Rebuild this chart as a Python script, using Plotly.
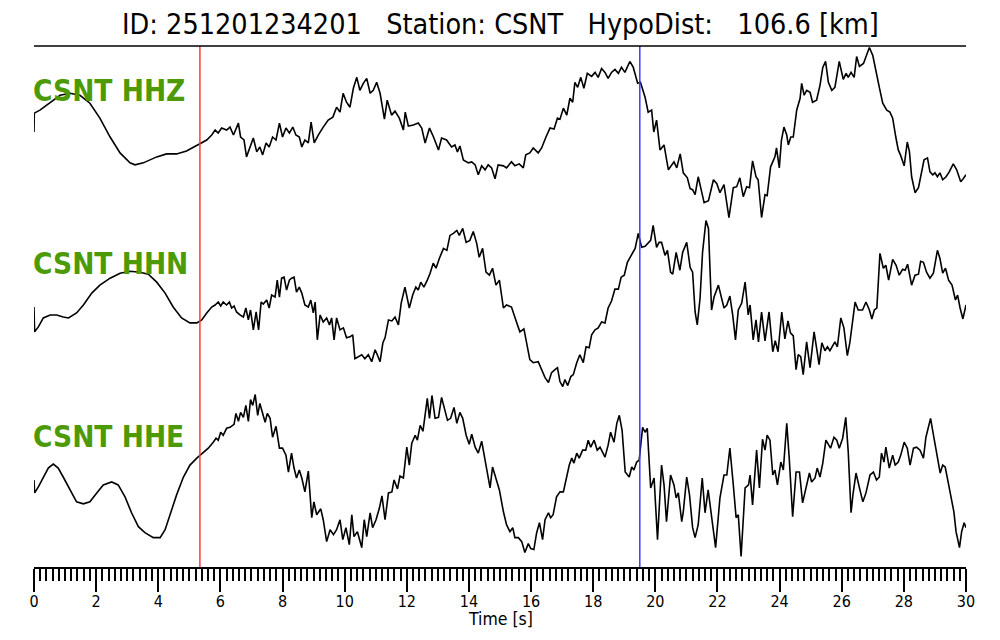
import plotly.graph_objects as go

TITLE = "ID: 251201234201\u00a0\u00a0\u00a0Station: CSNT\u00a0\u00a0\u00a0HypoDist:\u00a0\u00a0\u00a0106.6 [km]"
channels = ["CSNT HHZ", "CSNT HHN", "CSNT HHE"]
p_pick = 5.34   # s
s_pick = 19.50  # s

# ---- HHZ (relative amplitude) ----
hhz_t = [0.00, 0.01, 0.19, 0.51, 0.84, 1.16, 1.48, 1.80, 2.12, 2.45,
         2.77, 3.09, 3.25, 3.52, 3.95, 4.27, 4.59, 4.91, 5.24, 5.34,
         5.56, 5.72, 5.83, 5.93, 6.04, 6.20, 6.31, 6.42, 6.52, 6.58,
         6.65, 6.76, 6.84, 6.95, 7.06, 7.17, 7.27, 7.36, 7.47, 7.57,
         7.68, 7.79, 7.90, 8.00, 8.11, 8.22, 8.33, 8.43, 8.54, 8.62,
         8.72, 8.83, 8.92, 9.02, 9.15, 9.31, 9.47, 9.62, 9.74, 9.85,
         9.95, 10.06,
         10.17, 10.28, 10.39, 10.49, 10.60, 10.71, 10.82, 10.92, 11.03, 11.14,
         11.28, 11.37, 11.51, 11.62, 11.76, 11.89, 11.95, 12.05, 12.21, 12.37,
         12.48, 12.59, 12.73, 12.86, 13.02, 13.12, 13.28, 13.44, 13.55, 13.63,
         13.71, 13.82, 13.98, 14.09, 14.20, 14.30, 14.41, 14.52, 14.62, 14.73,
         14.84, 14.94, 15.11, 15.21, 15.37, 15.48, 15.62, 15.75, 15.83, 15.96,
         16.07, 16.23, 16.34, 16.48, 16.61, 16.74, 16.85, 16.93, 17.04, 17.15,
         17.25, 17.34, 17.41, 17.50, 17.60, 17.70, 17.81, 17.95, 18.06, 18.16,
         18.27, 18.38, 18.48, 18.59, 18.70, 18.81, 18.91, 19.02, 19.18, 19.29,
         19.43, 19.52, 19.67, 19.77, 19.88, 19.95, 20.04, 20.15,
         20.28, 20.42, 20.53, 20.60, 20.69, 20.80, 20.90, 21.03, 21.12, 21.20,
         21.28, 21.38, 21.49, 21.57, 21.71, 21.87, 21.98, 22.08, 22.21, 22.37,
         22.51, 22.62, 22.72, 22.83, 22.94, 23.03, 23.13, 23.24, 23.31, 23.42,
         23.53, 23.60, 23.71, 23.85, 23.90, 23.99, 24.06, 24.14, 24.23, 24.28,
         24.36, 24.44, 24.55, 24.66, 24.71, 24.79, 24.87, 24.98, 25.06, 25.19,
         25.30, 25.39, 25.48, 25.57, 25.68, 25.78, 25.92, 26.05, 26.14, 26.21,
         26.30, 26.40, 26.48, 26.57, 26.70, 26.80, 26.89, 27.00, 27.13, 27.21,
         27.32, 27.45, 27.55, 27.64, 27.74, 27.82, 27.89, 28.01, 28.11, 28.18,
         28.25, 28.36, 28.47, 28.58, 28.65, 28.76, 28.84, 28.93, 29.00, 29.08,
         29.16, 29.25, 29.36, 29.46, 29.59, 29.70, 29.83, 29.91, 30.00]
hhz_a = [1, 20, 23, 30, 38, 40, 38, 30, 15, -4,
         -20, -30, -32, -30, -24, -21, -21, -18, -12, -11,
         -7, -2, 3, 0, 5, 3, 6, -2, 5, 10,
         -4, -7, -24, -14, -5, -19, -14, -22, -10, -14,
         -4, -7, 10, -4, 5, 0, 6, -2, -4, -14,
         -7, -10, 11, -10, -2, 6, 13, 16, 26, 21,
         40, 31,
         26, 45, 56, 43, 50, 55, 40, 43, 51, 40,
         14, 33, 18, 22, 15, 3, 21, 7, 8, 10,
         5, -10, 5, -4, -17, -5, -7, -14, -12, -19,
         -13, -27, -30, -29, -32, -42, -33, -37, -32, -35,
         -46, -32, -33, -35, -29, -33, -31, -35, -22, -20,
         -15, -20, -15, -4, 5, 4, 15, 14, 25, 18,
         35, 31, 51, 46, 56, 45, 60, 57, 61, 56,
         65, 61, 55, 61, 64, 60, 66, 61, 72, 66,
         50, 51, 36, 21, 23, 1, 13, -17,
         -12, -37, -32, -29, -35, -21, -40, -45, -56, -57,
         -62, -44, -59, -70, -68, -47, -51, -60, -52, -85,
         -55, -54, -45, -64, -54, -55, -28, -44, -47, -85,
         -62, -63, -34, -24, -15, -35, -7, 6, -2, -12,
         -4, -4, 23, 35, 50, 38, 43, 41, 31, 33,
         48, 66, 72, 51, 43, 46, 72, 54, 60, 56,
         61, 56, 77, 67, 70, 78, 86, 78, 60, 46,
         30, 23, 21, 15, -4, -17, -22, -33, -9, -19,
         -44, -60, -55, -37, -27, -25, -39, -42, -40, -44,
         -40, -47, -44, -39, -31, -37, -49, -46, -42]

# ---- HHN (relative amplitude) ----
hhn_t = [0.00, 0.02, 0.14, 0.30, 0.52, 0.73, 0.94, 1.11, 1.37, 1.59,
         1.86, 2.12, 2.45, 2.77, 3.09, 3.41, 3.68, 3.95, 4.22, 4.48,
         4.75, 5.02, 5.24, 5.40, 5.56, 5.72, 5.83, 5.93, 6.01, 6.09,
         6.20, 6.29, 6.36, 6.44, 6.52, 6.63, 6.74, 6.82, 6.90, 6.97,
         7.06, 7.15, 7.23, 7.31, 7.38, 7.49, 7.57, 7.65, 7.76, 7.83,
         7.90, 7.97, 8.05, 8.13, 8.22, 8.29, 8.37, 8.45, 8.54, 8.62,
         8.72, 8.83, 8.91, 8.99, 9.05, 9.12, 9.21, 9.31, 9.42, 9.51,
         9.58, 9.66, 9.74, 9.85, 9.96, 10.06,
         10.17, 10.26, 10.33, 10.44, 10.55, 10.65, 10.76, 10.87, 10.98, 11.05,
         11.14, 11.23, 11.30, 11.41, 11.52, 11.62, 11.73, 11.82, 11.94, 12.08,
         12.19, 12.29, 12.37, 12.45, 12.55, 12.66, 12.75, 12.85, 12.94, 13.05,
         13.18, 13.29, 13.39, 13.50, 13.61, 13.69, 13.80, 13.91, 14.03, 14.14,
         14.25, 14.33, 14.44, 14.55, 14.66, 14.76, 14.87, 14.98, 15.11, 15.21,
         15.37, 15.53, 15.64, 15.77, 15.86, 15.96, 16.07, 16.23, 16.34, 16.45,
         16.56, 16.66, 16.77, 16.85, 16.93, 17.02, 17.09, 17.18, 17.28, 17.36,
         17.47, 17.57, 17.68, 17.77, 17.87, 17.95, 18.06, 18.16, 18.27, 18.38,
         18.48, 18.59, 18.70, 18.81, 18.90, 19.00, 19.10, 19.19, 19.30, 19.35,
         19.45, 19.56, 19.67, 19.77, 19.85, 19.93, 20.04, 20.12,
         20.20, 20.31, 20.39, 20.49, 20.56, 20.67, 20.79, 20.88, 21.01, 21.12,
         21.20, 21.28, 21.35, 21.44, 21.52, 21.63, 21.71, 21.81, 21.89, 22.03,
         22.13, 22.21, 22.30, 22.40, 22.49, 22.58, 22.67, 22.78, 22.89, 22.99,
         23.05, 23.15, 23.24, 23.32, 23.42, 23.53, 23.66, 23.78, 23.86, 23.95,
         24.07, 24.17, 24.27, 24.35, 24.44, 24.53, 24.60, 24.68, 24.76, 24.87,
         24.98, 25.11, 25.19, 25.27, 25.36, 25.46, 25.54, 25.62, 25.78, 25.86,
         25.97, 26.07, 26.18, 26.26, 26.43, 26.53, 26.67, 26.78, 26.89, 26.97,
         27.05, 27.13, 27.23, 27.34, 27.42, 27.51, 27.64, 27.75, 27.85, 27.96,
         28.04, 28.12, 28.25, 28.36, 28.47, 28.54, 28.63, 28.73, 28.84, 28.95,
         29.08, 29.16, 29.25, 29.34, 29.44, 29.55, 29.66, 29.73, 29.81, 29.90,
         30.00]
hhn_a = [-3, -28, -23, -14, -11, -11, -13, -14, -9, -1,
         11, 19, 26, 31, 33, 32, 30, 22, 11, -3,
         -14, -19, -19, -16, -9, -3, -1, 2, -2, 2,
         -1, 2, -4, -2, -8, -11, -13, -4, -16, -6,
         -26, -8, -26, 2, 0, 4, -4, 9, 7, 24,
         7, 26, 27, 14, 24, 26, 27, 12, 17, 11,
         -1, -3, 4, -9, 2, -36, -11, -18, -14, -21,
         -14, -36, -14, -26, -24, -34,
         -33, -31, -55, -53, -51, -55, -51, -58, -46, -51,
         -58, -39, -34, -16, -17, -13, -21, 1, 17, -4,
         9, 17, 14, 22, 17, 24, 31, 41, 36, 46,
         56, 54, 69, 71, 74, 69, 76, 62, 64, 73,
         61, 47, 56, 32, 29, 36, 19, 24, -4, -1,
         -3, -18, -28, -25, -41, -56, -59, -58, -66, -74,
         -79, -69, -66, -64, -78, -83, -76, -82, -73, -71,
         -59, -51, -59, -43, -44, -31, -26, -24, -18, -19,
         -4, 3, 15, 15, 27, 29, 42, 47, 54, 56,
         71, 57, 58, 62, 64, 79, 57, 62,
         62, 49, 54, 32, 30, 52, 34, 52, 62, 37,
         32, -8, -21, 6, 52, 84, 76, -6, 7, 19,
         7, -4, -1, 8, -11, -36, -6, 1, 22, -11,
         -1, -36, -16, -38, -8, -37, -8, -48, -37, -48,
         -8, -35, -17, -29, -32, -66, -51, -53, -71, -38,
         -64, -28, -44, -61, -39, -47, -43, -47, -38, -43,
         -14, -24, -52, -39, 2, -6, -6, 2, -6, -15,
         -6, -4, 51, 36, 39, 24, 45, 39, 29, 35,
         34, 40, 19, 29, 30, 43, 42, 32, 26, 31,
         54, 46, 31, 36, 24, 19, 4, 9, -4, -15,
         -1]

# ---- HHE (relative amplitude) ----
hhe_t = [0.00, 0.02, 0.14, 0.30, 0.46, 0.62, 0.78, 0.94, 1.16, 1.37,
         1.59, 1.80, 2.02, 2.23, 2.50, 2.71, 2.93, 3.14, 3.36, 3.57,
         3.84, 4.06, 4.22, 4.38, 4.59, 4.81, 5.02, 5.24, 5.40, 5.61,
         5.77, 5.86, 5.93, 6.01, 6.09, 6.20, 6.31, 6.44, 6.50, 6.58,
         6.65, 6.74, 6.82, 6.90, 6.97, 7.04, 7.12, 7.20, 7.27, 7.36,
         7.44, 7.51, 7.60, 7.68, 7.79, 7.90, 8.00, 8.11, 8.19, 8.29,
         8.37, 8.45, 8.54, 8.62, 8.72, 8.83, 8.94, 9.01, 9.10, 9.23,
         9.31, 9.42, 9.53, 9.64, 9.74, 9.85, 9.94, 10.04,
         10.15, 10.23, 10.30, 10.41, 10.47, 10.55, 10.63, 10.71, 10.82, 10.90,
         11.01, 11.12, 11.20, 11.30, 11.41, 11.52, 11.59, 11.70, 11.78, 11.89,
         12.00, 12.08, 12.16, 12.27, 12.34, 12.43, 12.52, 12.59, 12.66, 12.73,
         12.81, 12.91, 13.02, 13.12, 13.23, 13.31, 13.41, 13.52, 13.61, 13.71,
         13.80, 13.91, 14.01, 14.09, 14.20, 14.30, 14.41, 14.55, 14.68, 14.76,
         14.87, 14.98, 15.11, 15.21, 15.32, 15.41, 15.48, 15.59, 15.70, 15.80,
         15.91, 15.99, 16.09, 16.18, 16.27, 16.37, 16.45, 16.56, 16.63, 16.71,
         16.82, 16.93, 17.04, 17.15, 17.23, 17.31, 17.38, 17.47, 17.55, 17.66,
         17.76, 17.84, 17.92, 18.03, 18.13, 18.22, 18.38, 18.48, 18.56, 18.67,
         18.76, 18.84, 18.93, 19.03, 19.16, 19.24, 19.31, 19.40, 19.48, 19.59,
         19.67, 19.74, 19.85, 19.96, 20.07,
         20.20, 20.28, 20.36, 20.45, 20.49, 20.60, 20.67, 20.74, 20.85, 20.90,
         21.01, 21.10, 21.20, 21.28, 21.38, 21.51, 21.60, 21.70, 21.81, 21.94,
         22.08, 22.21, 22.30, 22.40, 22.51, 22.60, 22.67, 22.76, 22.89, 23.00,
         23.05, 23.13, 23.26, 23.35, 23.45, 23.53, 23.60, 23.69, 23.78, 23.85,
         23.93, 24.04, 24.12, 24.23, 24.31, 24.42, 24.53, 24.64, 24.74, 24.85,
         24.96, 25.03, 25.14, 25.21, 25.30, 25.39, 25.49, 25.64, 25.75, 25.84,
         25.92, 26.03, 26.13, 26.21, 26.30, 26.36, 26.46, 26.57, 26.68, 26.78,
         26.91, 27.02, 27.12, 27.21, 27.28, 27.36, 27.42, 27.53, 27.64, 27.72,
         27.82, 27.90, 28.01, 28.11, 28.20, 28.31, 28.41, 28.52, 28.63, 28.71,
         28.79, 28.86, 28.97, 29.06, 29.17, 29.25, 29.33, 29.43, 29.54, 29.61,
         29.68, 29.79, 29.86, 29.94, 30.00]
hhe_a = [-5, -18, -12, -2, 7, 11, 7, -2, -15, -27,
         -29, -27, -18, -10, -7, -10, -22, -38, -52, -58,
         -63, -63, -55, -40, -20, -2, 10, 17, 21, 27,
         33, 37, 35, 43, 40, 47, 48, 51, 62, 54,
         63, 58, 70, 54, 76, 70, 81, 60, 72, 63,
         53, 62, 57, 38, 49, 27, 27, 20, 3, 22,
         7, -3, 5, -3, -17, 4, -43, -27, -40, -34,
         -45, -67, -55, -60, -55, -45, -65, -53,
         -70, -40, -62, -57, -65, -73, -45, -62, -38, -53,
         -45, -33, -21, -45, -18, -17, -5, -14, -1, -3,
         28, 10, 32, 40, 35, 50, 44, 60, 77, 57,
         80, 57, 58, 78, 65, 55, 57, 68, 52, 63,
         57, 40, 31, 41, 28, 22, 34, 10, -13, 8,
         -3, -15, -37, -50, -57, -53, -63, -63, -67, -78,
         -69, -74, -75, -58, -48, -65, -45, -38, -43, -40,
         -22, -17, -17, -3, 10, 17, 12, 22, 17, 25,
         25, 35, 28, 35, 25, 28, 18, 30, 43, 33,
         52, 60, 45, 3, -2, 8, 5, 13, 15, 48,
         43, 47, -13, -3, -65,
         10, -10, -47, -17, 0, -10, -23, -18, -47, -37,
         -2, -20, -53, -63, -50, -3, -38, -15, -43, -73,
         -23, 0, 0, 27, -10, -43, -40, -82, -13, -10,
         0, -30, 25, -13, 36, 25, 40, 35, 0, 5,
         -10, 13, 5, 52, 17, -42, 3, 3, -28, -13,
         2, -7, -3, 7, -2, 12, 35, 27, 38, 35,
         27, 37, 58, 23, -38, -20, 2, -13, -27, -18,
         0, 3, -5, -2, 22, 13, 28, 7, 20, 10,
         13, 20, 33, 27, 10, 27, 28, 25, 17, 38,
         47, 57, 37, 20, 2, 10, 8, -8, -25, -37,
         -57, -73, -57, -48, -53]

x_ticks = list(range(0, 31, 2))

FONT = "DejaVu Sans Condensed, DejaVu Sans, sans-serif"
GREEN = "#4c9a06"

series = [(hhz_t, hhz_a), (hhn_t, hhn_a), (hhe_t, hhe_a)]
norm = max(abs(v) for _, a in series for v in a)
offsets = [2, 1, 0]

fig = go.Figure()
for (t, a), off in zip(series, offsets):
    fig.add_trace(go.Scatter(
        x=t, y=[off + 0.5 * v / norm for v in a], mode="lines",
        line=dict(color="black", width=1.6), showlegend=False, hoverinfo="skip"))

shapes = [
    dict(type="line", xref="x", yref="paper", x0=p_pick, x1=p_pick, y0=0, y1=1,
         line=dict(color="rgb(255,60,60)", width=1.5)),
    dict(type="line", xref="x", yref="paper", x0=s_pick, x1=s_pick, y0=0, y1=1,
         line=dict(color="rgb(60,60,255)", width=1.5)),
    dict(type="line", xref="paper", yref="paper", x0=0, x1=1, y0=1, y1=1,
         line=dict(color="black", width=1.5)),
]

label_y = [2.245, 1.235, 0.22]
annotations = [
    dict(text=TITLE, xref="paper", yref="paper", x=0.5, y=1.041, xanchor="center",
         yanchor="middle", showarrow=False, font=dict(family=FONT, size=28.5, color="black")),
    dict(text="Time [s]", xref="paper", yref="paper", x=0.5, y=-0.0998, xanchor="center",
         yanchor="middle", showarrow=False, font=dict(family=FONT, size=17.5, color="black")),
]
for name, ly in zip(channels, label_y):
    annotations.append(dict(text="<b>" + name + "</b>", xref="paper", yref="y", x=0, y=ly,
                            xanchor="left", yanchor="middle", showarrow=False, xshift=-3,
                            font=dict(family=FONT, size=29.5, color=GREEN)))

# page body has an 8px default margin, so the figure is sized/offset to compensate
fig.update_layout(
    width=992, height=632,
    margin=dict(l=26, r=34, t=38, b=73),
    paper_bgcolor="white", plot_bgcolor="white",
    shapes=shapes, annotations=annotations,
    font=dict(family=FONT, color="black"),
    xaxis=dict(range=[0, 30], tickmode="array", tickvals=x_ticks,
               ticktext=[str(v) for v in x_ticks],
               ticks="outside", ticklen=23, tickwidth=2, tickcolor="black",
               ticklabelstandoff=-4,
               showline=True, linewidth=2, linecolor="black",
               showgrid=False, zeroline=False, automargin=False,
               tickfont=dict(family=FONT, size=16, color="black"),
               minor=dict(dtick=0.2, tick0=0, ticks="outside", ticklen=12, tickwidth=2,
                          tickcolor="black", showgrid=False)),
    yaxis=dict(visible=False, range=[-0.538, 2.509], showgrid=False, zeroline=False),
)

fig.write_html("out.html")
